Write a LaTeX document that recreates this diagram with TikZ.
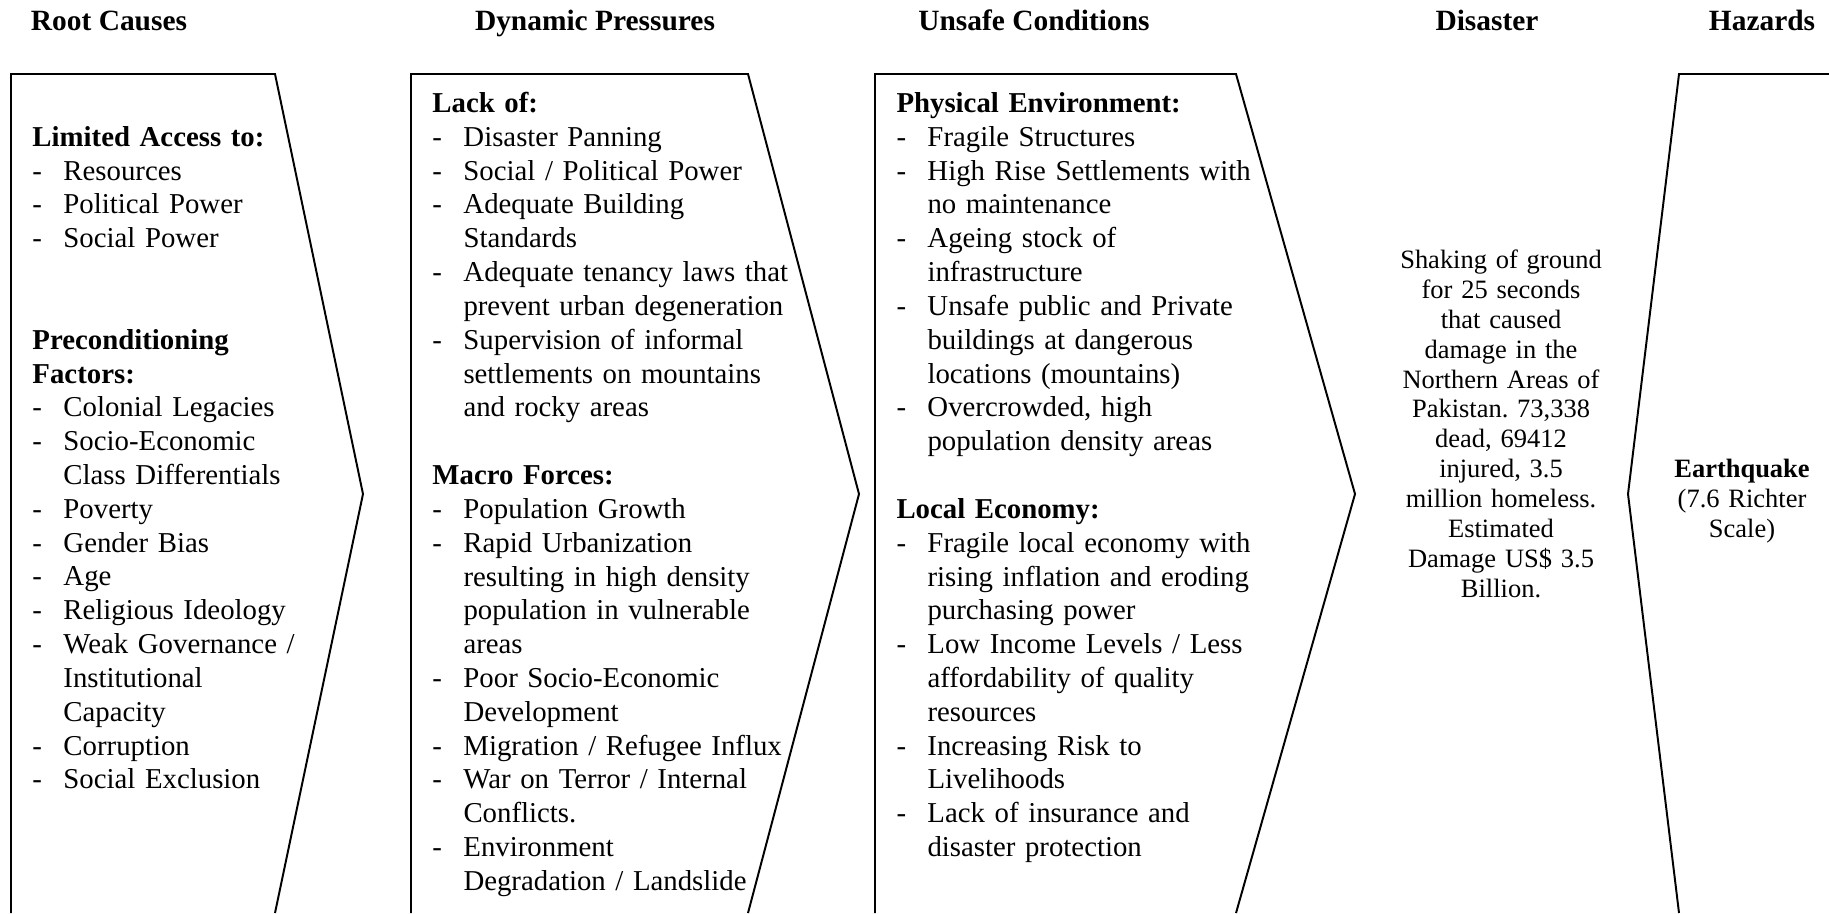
\documentclass[tikz,border=0pt]{standalone}
\usepackage{fontspec}
\setmainfont{Liberation Serif}
\setlength\parskip{0pt}
\setlength\parindent{0pt}
\newlength\itemgap
\setlength\itemgap{12.65pt}
\newcommand\bodysize{\fontsize{11.75pt}{13.8pt}\selectfont\frenchspacing}
\newcommand\notesize{\fontsize{10.8pt}{12.2pt}\selectfont\frenchspacing}
\newcommand\headsize{\fontsize{12pt}{14pt}\selectfont\bfseries}
% one typeset line per macro: dashed item, continuation, bold heading, empty line
\newcommand\dashline[1]{\noindent\strut\makebox[\itemgap][l]{-}#1\par}
\newcommand\contline[1]{\noindent\strut\hspace*{\itemgap}#1\par}
\newcommand\headline[1]{\noindent\strut\textbf{#1}\par}
\newcommand\blankline{\noindent\strut\par}
\begin{document}
\begin{tikzpicture}[x=0.408pt,y=-0.408pt,
  outline/.style={draw=black,line width=0.8pt,line join=miter},
  header/.style={font=\headsize,anchor=base,inner sep=0pt},
  listtext/.style={anchor=north west,inner sep=0pt,text width=210pt,align=left,font=\bodysize},
  centertext/.style={anchor=north,inner sep=0pt,text width=100pt,align=center,font=\notesize}]
\useasboundingbox (0,0) rectangle (1829,913);

% column headings
\node[header] (hroot)   at (109,30)  {Root Causes};
\node[header] (hdyn)    at (595,30)  {Dynamic Pressures};
\node[header] (hunsafe) at (1034,30) {Unsafe Conditions};
\node[header] (hdis)    at (1487,30) {Disaster};
\node[header] (hhaz)    at (1762,30) {Hazards};

% chevron outlines (open at the bottom edge)
\draw[outline] (11,913) -- (11,74) -- (275,74) -- (363,494) -- (275,913);
\draw[outline] (411,913) -- (411,74) -- (748,74) -- (859,494) -- (748,913);
\draw[outline] (875,913) -- (875,74) -- (1236,74) -- (1355,494) -- (1236,913);
\draw[outline] (1829,74) -- (1679,74) -- (1628,494) -- (1679,913);

% Root Causes
\node[listtext] (root) at (32,122.1) {%
\headline{Limited Access to:}
\dashline{Resources}
\dashline{Political Power}
\dashline{Social Power}
\blankline
\blankline
\headline{Preconditioning}
\headline{Factors:}
\dashline{Colonial Legacies}
\dashline{Socio-Economic}
\contline{Class Differentials}
\dashline{Poverty}
\dashline{Gender Bias}
\dashline{Age}
\dashline{Religious Ideology}
\dashline{Weak Governance /}
\contline{Institutional}
\contline{Capacity}
\dashline{Corruption}
\dashline{Social Exclusion}};

% Dynamic Pressures
\node[listtext] (dyn) at (432,88.3) {%
\headline{Lack of:}
\dashline{Disaster Panning}
\dashline{Social / Political Power}
\dashline{Adequate Building}
\contline{Standards}
\dashline{Adequate tenancy laws that}
\contline{prevent urban degeneration}
\dashline{Supervision of informal}
\contline{settlements on mountains}
\contline{and rocky areas}
\blankline
\headline{Macro Forces:}
\dashline{Population Growth}
\dashline{Rapid Urbanization}
\contline{resulting in high density}
\contline{population in vulnerable}
\contline{areas}
\dashline{Poor Socio-Economic}
\contline{Development}
\dashline{Migration / Refugee Influx}
\dashline{War on Terror / Internal}
\contline{Conflicts.}
\dashline{Environment}
\contline{Degradation / Landslide}};

% Unsafe Conditions
\node[listtext] (unsafe) at (896,88.3) {%
\headline{Physical Environment:}
\dashline{Fragile Structures}
\dashline{High Rise Settlements with}
\contline{no maintenance}
\dashline{Ageing stock of}
\contline{infrastructure}
\dashline{Unsafe public and Private}
\contline{buildings at dangerous}
\contline{locations (mountains)}
\dashline{Overcrowded, high}
\contline{population density areas}
\blankline
\headline{Local Economy:}
\dashline{Fragile local economy with}
\contline{rising inflation and eroding}
\contline{purchasing power}
\dashline{Low Income Levels / Less}
\contline{affordability of quality}
\contline{resources}
\dashline{Increasing Risk to}
\contline{Livelihoods}
\dashline{Lack of insurance and}
\contline{disaster protection}};

% Disaster
\node[centertext] (dis) at (1501,247) {\strut Shaking of ground\\
for 25 seconds\\
that caused\\
damage in the\\
Northern Areas of\\
Pakistan. 73,338\\
dead, 69412\\
injured, 3.5\\
million homeless.\\
Estimated\\
Damage US\$ 3.5\\
Billion.};

% Hazards
\node[centertext] (haz) at (1742,456) {\strut\textbf{Earthquake}\\
(7.6 Richter\\
Scale)};
\end{tikzpicture}
\end{document}
